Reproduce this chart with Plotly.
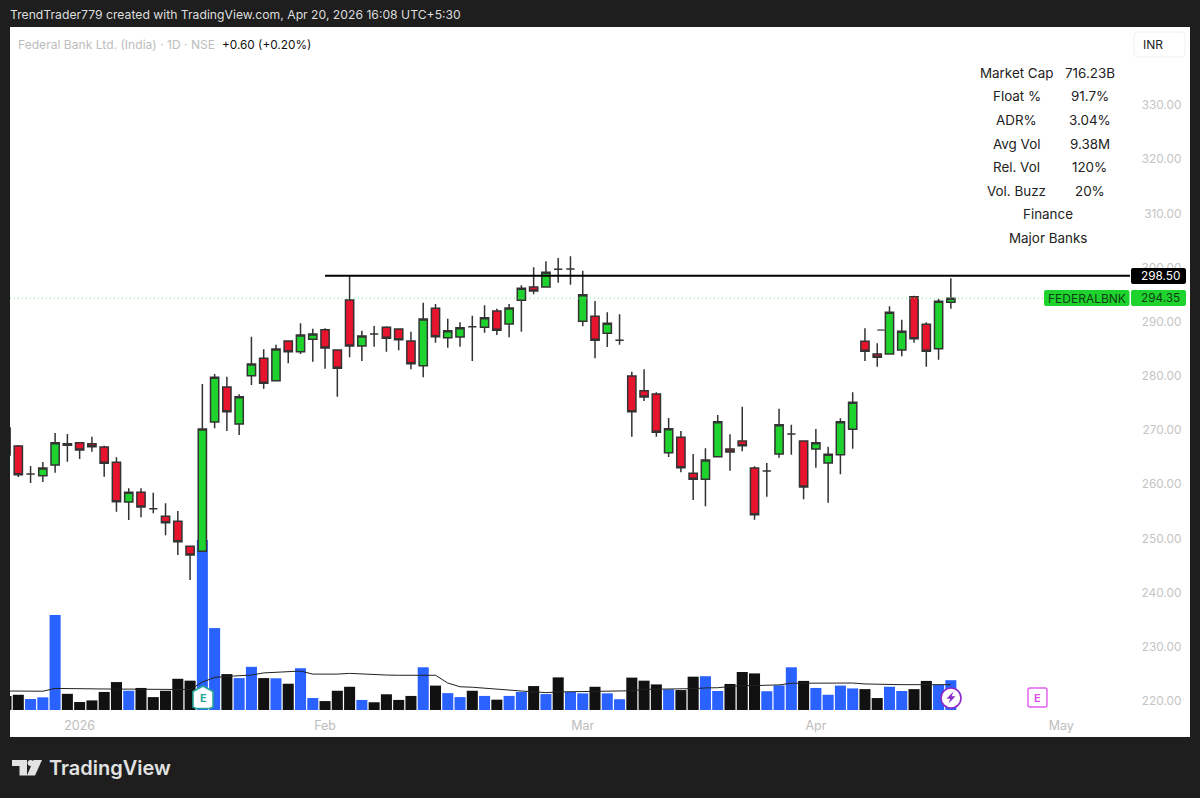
import plotly.graph_objects as go

# ---------- data ----------
bar_index = list(range(-1, 77))
opens = [270.39,267.07,261.90,261.58,263.56,267.49,267.67,267.49,266.88,264.06,256.73,258.52,255.49,254.09,253.17,248.55,247.63,271.49,277.95,271.13,280.04,283.25,279.12,286.45,284.47,286.76,288.53,284.78,294.01,285.52,287.74,288.97,288.66,286.45,281.89,292.48,287.05,287.18,289.08,288.97,291.98,289.58,293.96,296.41,296.41,299.68,299.73,290.08,291.00,287.87,286.57,279.99,277.27,276.66,265.83,268.67,262.03,260.92,265.09,266.51,267.99,263.00,262.45,265.59,269.28,267.99,266.51,263.93,265.46,270.15,286.39,284.05,284.05,284.78,294.62,289.53,285.02,293.59]
highs = [270.39,267.25,263.37,264.11,269.46,269.28,267.67,268.78,267.12,264.98,259.26,259.26,258.45,256.49,255.07,248.55,278.51,280.35,279.86,276.61,287.24,284.91,285.76,286.45,289.71,288.72,288.79,284.78,298.50,288.35,289.21,289.16,288.66,288.16,293.51,293.27,290.56,289.90,291.11,293.03,292.41,293.27,296.73,300.05,301.15,301.76,302.08,299.42,293.83,291.74,291.37,280.78,281.22,276.98,272.23,269.83,265.59,266.64,272.79,269.22,274.32,263.32,263.93,273.95,271.00,267.99,270.20,266.94,272.18,276.98,288.79,286.02,292.85,290.38,294.81,289.90,294.20,298.02]
lows = [265.40,261.34,260.24,260.42,262.14,264.17,264.67,266.01,261.40,254.94,253.41,253.91,254.64,250.58,246.95,242.33,247.63,270.33,269.83,269.10,278.32,277.64,279.12,282.33,284.05,282.62,281.33,276.16,283.44,282.75,285.39,284.47,284.73,281.22,279.75,286.13,285.21,285.39,282.75,287.98,287.55,287.13,288.16,295.06,296.41,297.21,296.84,289.16,283.25,285.34,285.76,268.78,275.37,268.78,265.04,262.21,257.10,255.94,265.09,262.51,266.09,253.46,257.71,264.91,265.46,257.23,263.06,256.60,261.84,266.57,282.75,281.70,284.05,283.62,286.13,281.70,282.99,292.41]
closes = [265.40,261.77,261.90,263.00,267.67,267.19,266.33,266.94,263.87,256.78,258.52,255.81,255.49,252.91,249.40,246.95,270.20,279.75,273.40,276.16,282.20,278.64,284.97,284.47,287.55,287.74,285.15,281.41,285.52,287.37,287.74,286.94,286.68,282.26,290.51,287.24,288.35,288.90,289.08,290.75,288.42,292.54,296.17,295.67,299.12,299.68,299.73,294.99,286.57,289.71,286.57,273.40,276.11,269.59,270.26,263.06,260.92,264.48,271.55,265.96,267.12,254.39,262.45,271.00,269.28,259.50,267.67,265.53,271.55,275.13,284.54,283.44,291.74,288.24,286.87,284.54,293.77,294.35]
volume_m = [6.0,6.5,4.7,5.4,40.5,6.9,3.4,4.1,7.7,11.9,8.2,9.4,5.5,8.2,13.3,12.5,72.4,34.9,15.3,13.6,18.4,13.6,13.5,11.2,17.8,5.1,3.8,8.2,9.9,4.3,3.3,6.7,4.3,6.0,18.2,10.4,7.2,5.5,8.2,6.0,4.4,6.0,7.7,10.2,6.8,13.9,7.7,7.1,9.9,7.1,4.6,13.8,12.5,10.9,8.8,8.5,14.2,14.4,8.1,11.1,16.2,15.6,8.0,10.5,18.2,12.4,9.4,6.5,10.4,9.2,8.9,5.1,9.9,8.1,8.9,12.4,10.7,12.7]
volume_kind = list("kkbbbkkkkkbkkkkkbbkbbkbkbbkkkbkkkkbkbbkbkbbkbkbbkbbkkkbkkbbkkkbbbkbbbbkkbbkkbb")
volume_avg_m = [8.1,8.1,8.0,8.0,9.2,9.1,8.9,8.9,8.9,8.9,8.9,8.9,8.9,8.9,8.7,8.7,11.9,13.9,14.3,14.6,14.9,15.8,16.1,16.4,16.6,15.3,15.2,15.3,15.6,15.3,15.0,14.9,14.8,14.8,14.8,14.8,11.5,9.9,9.7,9.4,8.9,8.5,8.1,7.7,7.4,7.7,7.8,7.8,7.8,7.9,8.1,8.2,8.8,8.8,8.8,8.9,9.1,9.4,9.5,10.0,10.4,10.4,10.6,10.7,11.4,11.4,11.4,11.4,11.5,11.5,11.1,10.9,10.8,10.8,10.8,10.8,10.8,10.8]
tick_prices = [220,230,240,250,260,270,280,290,300,310,320,330]
date_ticks = [5,25,46,65,85]
date_labels = ["2026","Feb","Mar","Apr","May"]
resistance_x = [25, 90.6]
resistance_y = [298.5, 298.5]
last_x = [-0.68, 83.7]
last_y = [294.35, 294.35]
stub_x = [70, 70.6]
stub_y = [288.47, 288.47]
info_left = ["Market Cap","Float %","ADR%","Avg Vol","Rel. Vol","Vol. Buzz"]
info_right = ["716.23B","91.7%","3.04%","9.38M","120%","20%"]
info_extra = ["Finance","Major Banks"]

# ---------- styling ----------
BG = "#1e1e1e"; GREEN = "#1fd32e"; RED = "#e8132d"; WICK = "#333333"
FONT = "Inter"
L, R, T, B = 10, 1190, 27, 737
def px(x): return (x - L) / (R - L)
def py(y): return (B - y) / (B - T)

fig = go.Figure()
fig.add_trace(go.Bar(
    x=bar_index, y=volume_m, yaxis="y", showlegend=False,
    marker=dict(color=["#2962ff" if k == "b" else "#111111" for k in volume_kind], line_width=0),
))
fig.add_trace(go.Scatter(x=bar_index, y=volume_avg_m, yaxis="y", mode="lines",
                         line=dict(color="#222222", width=1), showlegend=False))
fig.add_trace(go.Scatter(x=last_x, y=last_y, yaxis="y2", mode="lines",
                         line=dict(color="#72dd80", width=1, dash="1px,3px"), showlegend=False))
fig.add_trace(go.Candlestick(
    x=bar_index, open=opens, high=highs, low=lows, close=closes, yaxis="y2", showlegend=False,
    whiskerwidth=0,
    increasing=dict(fillcolor=GREEN, line=dict(color=WICK, width=1.5)),
    decreasing=dict(fillcolor=RED, line=dict(color=WICK, width=1.5)),
))
fig.add_trace(go.Scatter(x=stub_x, y=stub_y, yaxis="y2", mode="lines",
                         line=dict(color=WICK, width=1.2), showlegend=False))
fig.add_trace(go.Scatter(x=resistance_x, y=resistance_y, yaxis="y2", mode="lines",
                         line=dict(color="#000000", width=2), showlegend=False))

def rrect(x0, y0, x1, y1, r=3):
    a, b, c, d = px(x0), py(y0), px(x1), py(y1)
    rx, ry = r / (R - L), r / (B - T)
    return (f"M{a+rx},{b} L{c-rx},{b} Q{c},{b} {c},{b-ry} L{c},{d+ry} Q{c},{d} {c-rx},{d} "
            f"L{a+rx},{d} Q{a},{d} {a},{d+ry} L{a},{b-ry} Q{a},{b} {a+rx},{b} Z")
def poly(points):
    return "M" + " L".join(f"{px(x)},{py(y)}" for x, y in points) + " Z"

shapes = []
def add_path(path, fill, line="rgba(0,0,0,0)", width=0):
    shapes.append(dict(type="path", xref="paper", yref="paper", path=path, fillcolor=fill,
                       line=dict(color=line, width=width), layer="above"))

add_path(rrect(1134, 32, 1185, 57, 4), "#ffffff", "#f0f0f0", 1)
add_path(rrect(1131, 268, 1186, 284, 2), "#000000")
add_path(rrect(1044, 290, 1129.5, 306, 2), GREEN)
add_path(rrect(1131, 290, 1186, 306, 2), GREEN)
add_path(poly([(203, 686), (213, 691.5), (213, 707), (210, 708.5), (196, 708.5), (193, 707), (193, 691.5)]),
         "#ffffff", "#26a69a", 1.6)
shapes.append(dict(type="circle", xref="paper", yref="paper", x0=px(941), x1=px(961), y0=py(708), y1=py(688),
                   fillcolor="#ffffff", line=dict(color="#8a2bc9", width=1.6), layer="above"))
add_path(poly([(953.5, 691.5), (946.5, 698.8), (950.3, 698.8), (948.5, 703.5), (955.5, 696.2), (951.7, 696.2)]), "#8a2bc9")
add_path(rrect(1028, 688, 1047, 707, 2), "#ffffff", "#e45bf0", 1.4)
# TradingView mark
add_path(poly([(12, 760), (27, 760), (27, 775.5), (19.5, 775.5), (19.5, 766), (12, 766)]), "#e2e2e2")
shapes.append(dict(type="circle", xref="paper", yref="paper", x0=px(27.6), x1=px(33.6), y0=py(766), y1=py(760),
                   fillcolor="#e2e2e2", line=dict(width=0), layer="above"))
add_path(poly([(33.5, 760), (42, 760), (35, 775.5), (27, 775.5)]), "#e2e2e2")

anns = []
def text(x, y, s, color="#000000", size=13.5, anchor="center", weight=None):
    f = dict(family=FONT, size=size, color=color)
    if weight: f["weight"] = weight
    anns.append(dict(xref="paper", yref="paper", x=px(x), y=py(y), text=s, showarrow=False,
                     xanchor=anchor, yanchor="middle", font=f))

text(8, 14, "TrendTrader779 created with TradingView.com, Apr 20, 2026 16:08 UTC+5:30", "#dddddd", 12.2, "left")
text(16, 45, "Federal Bank Ltd. (India) · 1D · NSE", "#bdbdbd", 12.1, "left")
text(220, 45, "+0.60 (+0.20%)", "#111111", 11.8, "left")
text(1153, 45, "INR", "#222222", 12)
for i, (a, b) in enumerate(zip(info_left, info_right)):
    y = 73 + i * 23.5
    text(1016.5, y, a, "#222222", 13.4)
    text(1089.5, y, b, "#222222", 13.4)
text(1047.5, 214, info_extra[0], "#222222", 13.4)
text(1047.5, 238, info_extra[1], "#222222", 13.4)
text(1160, 276, "298.50", "#ffffff", 11.8)
text(1086.5, 298, "FEDERALBNK", "#0e3d14", 12)
text(1160, 298, "294.35", "#0e3d14", 11.8)
text(203, 698, "E", "#26a69a", 11, weight=700)
text(1037.5, 697.5, "E", "#d94fe8", 11, weight=600)
text(110, 768, "TradingView", "#e2e2e2", 20, weight=600)

fig.update_layout(
    width=1200, height=798,
    margin=dict(l=L, r=1200 - R, t=T, b=798 - B, autoexpand=False),
    paper_bgcolor=BG, plot_bgcolor="#ffffff",
    font=dict(family=FONT, color="#bdbdbd", size=12),
    bargap=0.1, boxgap=0.04, showlegend=False, shapes=shapes, annotations=anns,
    xaxis=dict(range=[-0.676, 95.49], rangeslider=dict(visible=False), showgrid=False, zeroline=False,
               showline=False, tickmode="array", tickvals=date_ticks, ticktext=date_labels,
               ticks="inside", ticklen=4, tickcolor="rgba(0,0,0,0)", ticklabelposition="inside",
               fixedrange=True, tickfont=dict(family=FONT, size=12.5, color="#bdbdbd")),
    yaxis=dict(range=[-11.5, 291.0], visible=False, fixedrange=True),
    yaxis2=dict(range=[213.36, 344.4], overlaying="y", side="right", showgrid=False, zeroline=False,
                showline=False, tickmode="array", tickvals=tick_prices,
                ticktext=[f"{p:.2f}" for p in tick_prices], ticks="inside", ticklen=8,
                tickcolor="rgba(0,0,0,0)", ticklabelposition="inside",
                tickfont=dict(family=FONT, size=11.8, color="#c4c4c4"), fixedrange=True),
)
fig.write_html("out.html", config=dict(displayModeBar=False), post_script="document.body.style.margin='0';")
